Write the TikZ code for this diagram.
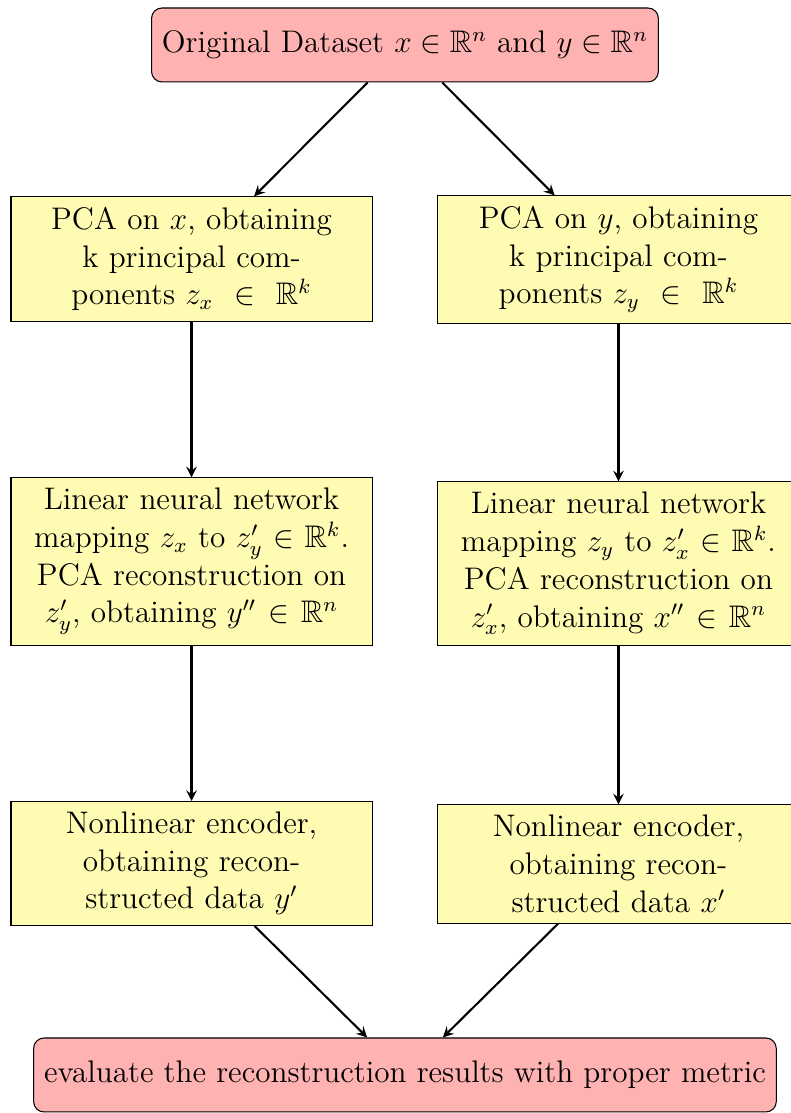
\documentclass[12pt,tikz,border=0pt]{standalone}
\usepackage{amsmath,amssymb}
\begin{document}
\begin{tikzpicture}[
	startbox/.style={rectangle, rounded corners, minimum height=1cm, align=center, draw=black, fill=red!30},
	procbox/.style={rectangle, minimum height=1cm, text width=4.6cm, align=center, draw=black, fill=yellow!30},
	flow/.style={thick, ->, >=stealth}]
	\useasboundingbox (0,0) rectangle (10.679,-15.045);
	\node[startbox] (b0) at (5.474, -0.608) {Original Dataset $x \in \mathbb{R}^n$ and $y \in \mathbb{R}^n$};
	\node[procbox] (b1) at (2.589, -3.501) {PCA on $x$, obtaining\\ k principal com-\\ ponents $z_x \,\in\, \mathbb{R}^k$};
	\node[procbox] (b2) at (8.360, -3.508) {PCA on $y$, obtaining\\ k principal com-\\ ponents $z_y \,\in\, \mathbb{R}^k$};
	\node[procbox] (b3) at (2.589, -7.590) {Linear neural network mapping $z_x$ to $z'_y \in \mathbb{R}^k$. PCA reconstruction on $z'_y$, obtaining $y'' \in \mathbb{R}^n$};
	\node[procbox] (b4) at (8.360, -7.617) {Linear neural network mapping $z_y$ to $z'_x \in \mathbb{R}^k$. PCA reconstruction on $z'_x$, obtaining $x'' \in \mathbb{R}^n$};
	\node[procbox] (b5) at (2.589, -11.672) {Nonlinear encoder,\\ obtaining recon-\\ structed data $y'$};
	\node[procbox] (b6) at (8.360, -11.679) {Nonlinear encoder,\\ obtaining recon-\\ structed data $x'$};
	\node[startbox] (b7) at (5.474, -14.531) {evaluate the reconstruction results with proper metric};
	 \draw[flow] (b0) -- (b1);
	 \draw[flow] (b0) -- (b2);
	 \draw[flow] (b1) -- (b3);
	 \draw[flow] (b2) -- (b4);
	 \draw[flow] (b3) -- (b5);
	 \draw[flow] (b4) -- (b6);
	 \draw[flow] (b5) -- (b7);
	 \draw[flow] (b6) -- (b7);
\end{tikzpicture}
\end{document}
